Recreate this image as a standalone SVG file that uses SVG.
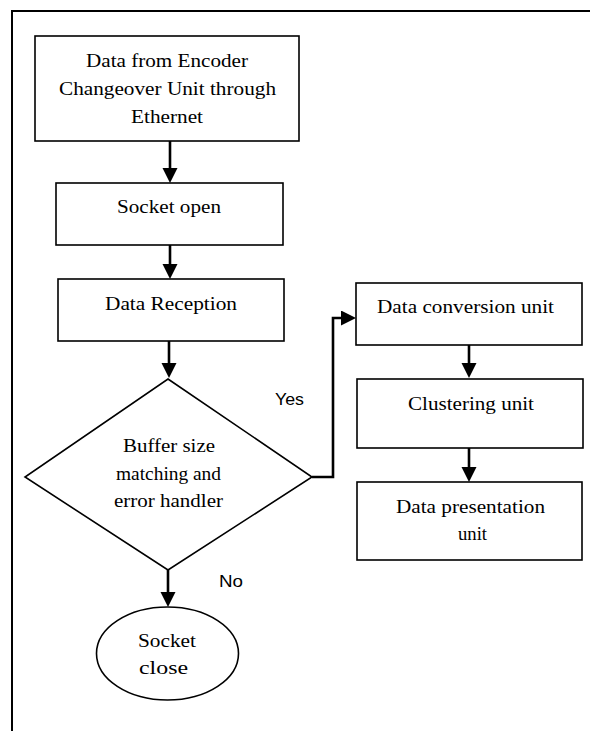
<svg xmlns="http://www.w3.org/2000/svg" width="590" height="731" viewBox="0 0 590 731">
  <style>
    .box { fill: #fff; stroke: #000; stroke-width: 1.6; }
    .frame { fill: none; stroke: #000; stroke-width: 2; }
    .lbl { font-family: "Liberation Serif", "Times New Roman", serif; font-size: 19px; fill: #000; text-anchor: middle; }
    .tag { font-family: "Liberation Sans", Arial, sans-serif; font-size: 17px; fill: #000; }
    .conn { fill: none; stroke: #000; stroke-width: 2.6; }
  </style>
  <defs>
    <!-- solid arrowhead; the line stops 5px short of the tip -->
    <marker id="arrow" markerUnits="userSpaceOnUse" markerWidth="16" markerHeight="16" refX="10" refY="7.5" orient="auto">
      <path d="M0,0 L15,7.5 L0,15 Z" fill="#000"/>
    </marker>
  </defs>

  <rect width="590" height="731" fill="#fff"/>
  <!-- page frame: top and left rules only -->
  <path class="frame" d="M12,731 V11 H590"/>

  <g id="connectors">
    <path class="conn" d="M170,141 V178" marker-end="url(#arrow)"/>
    <path class="conn" d="M170,245 V274" marker-end="url(#arrow)"/>
    <path class="conn" d="M169,341 V373" marker-end="url(#arrow)"/>
    <path class="conn" d="M168,570 V602" marker-end="url(#arrow)"/>
    <path class="conn" d="M312,477 H333 V318 H351" marker-end="url(#arrow)"/>
    <path class="conn" d="M469,345 V373" marker-end="url(#arrow)"/>
    <path class="conn" d="M469,448 V477" marker-end="url(#arrow)"/>
  </g>

  <g id="encoder-input">
    <rect class="box" x="35" y="36" width="264" height="105"/>
    <text class="lbl" x="167" y="67" textLength="162" lengthAdjust="spacingAndGlyphs">Data from Encoder</text>
    <text class="lbl" x="167.5" y="95" textLength="217" lengthAdjust="spacingAndGlyphs">Changeover Unit through</text>
    <text class="lbl" x="167" y="123" textLength="72" lengthAdjust="spacingAndGlyphs">Ethernet</text>
  </g>

  <g id="socket-open">
    <rect class="box" x="56" y="183" width="227" height="62"/>
    <text class="lbl" x="169" y="213" textLength="104" lengthAdjust="spacingAndGlyphs">Socket open</text>
  </g>

  <g id="data-reception">
    <rect class="box" x="58" y="279" width="226" height="62"/>
    <text class="lbl" x="171" y="310" textLength="132" lengthAdjust="spacingAndGlyphs">Data Reception</text>
  </g>

  <g id="buffer-check">
    <polygon class="box" points="168,379 312,477 168,570 25,477"/>
    <text class="lbl" x="169" y="452" textLength="92" lengthAdjust="spacingAndGlyphs">Buffer size</text>
    <text class="lbl" x="168.5" y="480" textLength="105" lengthAdjust="spacingAndGlyphs">matching and</text>
    <text class="lbl" x="168.5" y="507" textLength="109" lengthAdjust="spacingAndGlyphs">error handler</text>
  </g>

  <text class="tag" x="275" y="405" textLength="29" lengthAdjust="spacingAndGlyphs">Yes</text>
  <text class="tag" x="219" y="587" textLength="24" lengthAdjust="spacingAndGlyphs">No</text>

  <g id="socket-close">
    <ellipse class="box" cx="167.5" cy="653.5" rx="71" ry="46.5"/>
    <text class="lbl" x="167" y="647" textLength="58" lengthAdjust="spacingAndGlyphs">Socket</text>
    <text class="lbl" x="163.5" y="674" textLength="49" lengthAdjust="spacingAndGlyphs">close</text>
  </g>

  <g id="data-conversion">
    <rect class="box" x="356" y="283" width="226" height="62"/>
    <text class="lbl" x="465.5" y="313" textLength="177" lengthAdjust="spacingAndGlyphs">Data conversion unit</text>
  </g>

  <g id="clustering">
    <rect class="box" x="357" y="379" width="226" height="69"/>
    <text class="lbl" x="471" y="410" textLength="126" lengthAdjust="spacingAndGlyphs">Clustering unit</text>
  </g>

  <g id="data-presentation">
    <rect class="box" x="357" y="482" width="225" height="78"/>
    <text class="lbl" x="470.5" y="513" textLength="149" lengthAdjust="spacingAndGlyphs">Data presentation</text>
    <text class="lbl" x="472.5" y="540" textLength="29" lengthAdjust="spacingAndGlyphs">unit</text>
  </g>
</svg>
